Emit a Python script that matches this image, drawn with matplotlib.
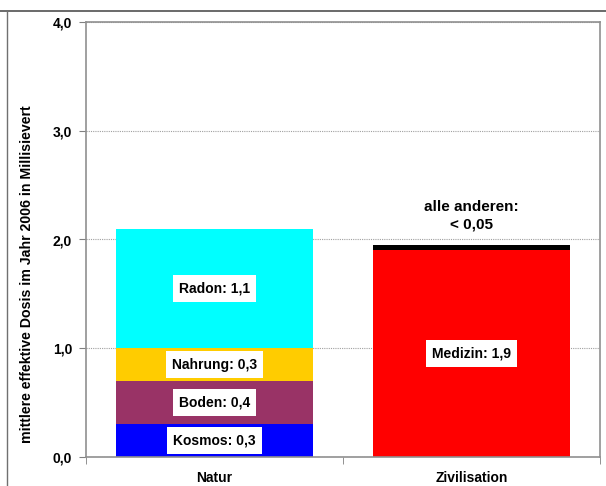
import matplotlib.pyplot as plt
from matplotlib.lines import Line2D
from matplotlib.ticker import FixedLocator

plt.rcParams['font.family'] = ['Liberation Sans', 'DejaVu Sans']
plt.rcParams['font.weight'] = 'bold'

categories = ['Natur', 'Zivilisation']

# natural sources (stacked, bottom to top)
natur_names = ['Kosmos', 'Boden', 'Nahrung', 'Radon']
natur_values = [0.3, 0.4, 0.3, 1.1]
natur_labels = ['Kosmos: 0,3', 'Boden: 0,4', 'Nahrung: 0,3', 'Radon: 1,1']
natur_colors = ['#0000ff', '#993366', '#ffcc00', '#00ffff']

# civilisation sources
ziv_names = ['Medizin', 'alle anderen']
ziv_values = [1.9, 0.05]
ziv_colors = ['#ff0000', '#000000']

yticks = [0.0, 1.0, 2.0, 3.0, 4.0]
ytick_labels = ['0,0', '1,0', '2,0', '3,0', '4,0']

fig = plt.figure(figsize=(6.06, 4.86), dpi=100)
ax = fig.add_axes([86 / 606, 1 - 457 / 486, 514 / 606, 435 / 486])

width = 0.77
box = dict(facecolor='white', edgecolor='none', pad=4.5)

bottom = 0
for val, col, lab in zip(natur_values, natur_colors, natur_labels):
    ax.bar(0, val, width, bottom=bottom, color=col, zorder=2)
    ax.text(0, bottom + val / 2, lab, ha='center', va='center', fontsize=10,
            fontweight='bold', zorder=3, bbox=box)
    bottom += val

bottom = 0
for val, col in zip(ziv_values, ziv_colors):
    ax.bar(1, val, width, bottom=bottom, color=col, zorder=2)
    bottom += val

ax.text(1, ziv_values[0] / 2, 'Medizin: 1,9', ha='center', va='center',
        fontsize=10, fontweight='bold', zorder=3, bbox=box)
ax.text(1, 2.215, 'alle anderen:\n< 0,05', ha='center', va='center',
        fontsize=11, fontweight='bold', linespacing=1.3)

ax.set_xlim(-0.5, 1.5)
ax.set_ylim(0, 4.0)
ax.set_xticks([0, 1])
ax.set_xticklabels(categories, fontsize=10, fontweight='bold')
ax.tick_params(axis='x', which='major', length=0, pad=10)
ax.xaxis.set_minor_locator(FixedLocator([-0.5, 0.5, 1.5]))
ax.tick_params(axis='x', which='minor', length=5, color='#808080')

ax.set_yticks(yticks)
ax.set_yticklabels(ytick_labels, fontsize=10, fontweight='bold')
ax.tick_params(axis='y', length=5, color='#808080', pad=5)

ax.yaxis.grid(True, linestyle=(0, (1, 1)), color='#a0a0a0', linewidth=0.8, zorder=0)
ax.set_axisbelow(True)
for s in ax.spines.values():
    s.set_color('#909090')
    s.set_linewidth(1.2)

ax.set_ylabel('mittlere effektive Dosis im Jahr 2006 in Millisievert',
              fontsize=10.2, fontweight='bold')
ax.yaxis.set_label_coords(-0.101, 0.42)

# outer frame lines of the original picture
fig.add_artist(Line2D([0, 1], [1 - 11 / 486] * 2, transform=fig.transFigure,
                      color='#505050', linewidth=1.2))
fig.add_artist(Line2D([7 / 606] * 2, [0, 1 - 11 / 486], transform=fig.transFigure,
                      color='#707070', linewidth=1.0))

fig.savefig('out.png', dpi=100)
